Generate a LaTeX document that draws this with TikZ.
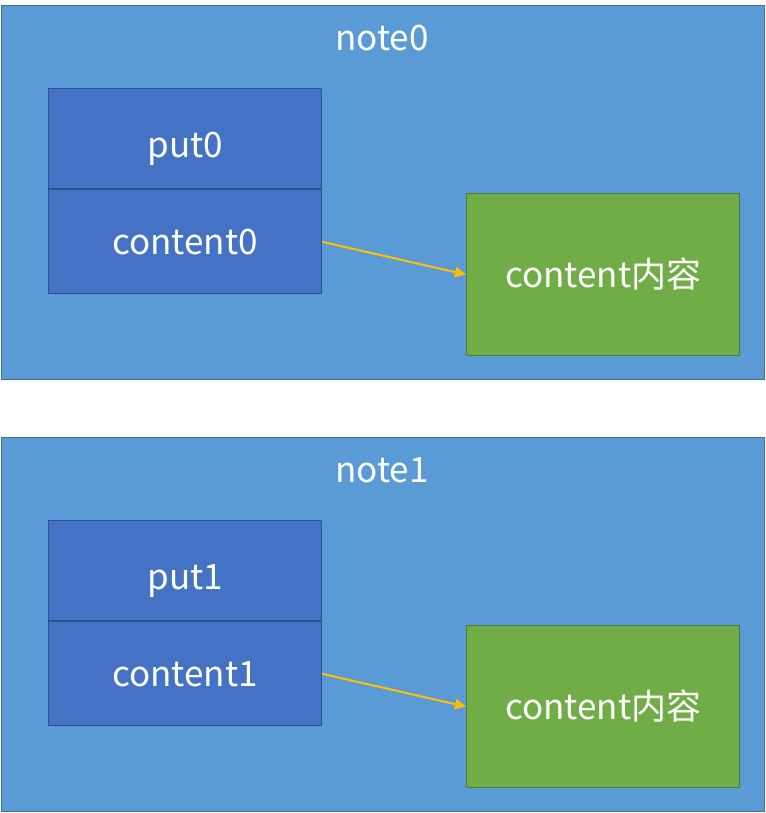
\documentclass[tikz,border=0pt]{standalone}
\usepackage{fontspec}
\setmainfont{Noto Sans CJK SC}
\usetikzlibrary{positioning, arrows.meta}
\definecolor{outerblue}{HTML}{5B9BD5}
\definecolor{outerline}{HTML}{41719C}
\definecolor{innerblue}{HTML}{4472C4}
\definecolor{innerline}{HTML}{2F528F}
\definecolor{boxgreen}{HTML}{70AD47}
\definecolor{greenline}{HTML}{507E32}
\definecolor{arrowgold}{HTML}{FFC000}
\tikzset{
	notebox/.style={draw=outerline, fill=outerblue, line width=1.2pt, minimum width=763pt, minimum height=374pt, anchor=north west, inner sep=0pt},
	cell/.style={draw=innerline, fill=innerblue, line width=1.2pt, minimum width=273pt, text=white, inner sep=0pt},
	databox/.style={draw=greenline, fill=boxgreen, line width=1.2pt, minimum width=273pt, minimum height=162pt, text=white, inner sep=0pt},
	link/.style={draw=arrowgold, line width=2pt, -{Triangle[length=11pt, width=10pt]}},
}
\begin{document}
\begin{tikzpicture}[x=1pt, y=-1pt, font=\fontsize{35}{40}\selectfont]
	\useasboundingbox (0,0) rectangle (765,813);
	\foreach \i/\y in {0/5, 1/437} {
		\node[notebox] (note\i) at (0.6,\y) {};
		\node[text=white] (title\i) at (382,\y+33) {note\i};
		\node[cell, minimum height=100pt, text height=44pt, text depth=7pt, anchor=north west] (put\i) at (48,\y+83) {put\i};
		\node[cell, minimum height=104pt, below=0pt of put\i] (content\i) {content\i};
		\node[databox, anchor=north west] (data\i) at (466,\y+188) {content内容};
		\draw[link] (content\i.east) -- (data\i.west);
	}
\end{tikzpicture}
\end{document}
